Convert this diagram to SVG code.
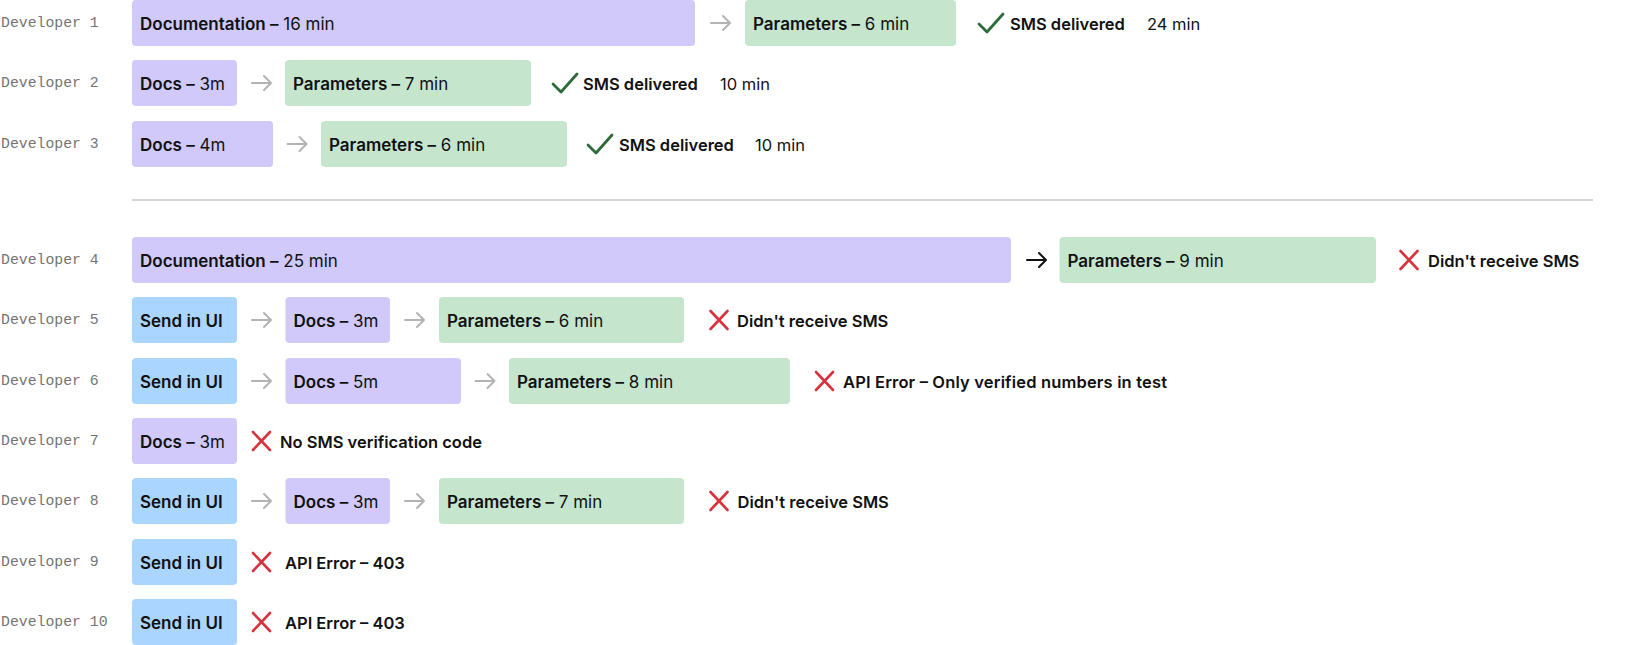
<svg xmlns="http://www.w3.org/2000/svg" xmlns:xlink="http://www.w3.org/1999/xlink" width="1632" height="645" viewBox="0 0 1632 645">
<style>
.bg{fill:#ffffff}
.lbl{font-family:"Liberation Mono","DejaVu Sans Mono",monospace;font-size:14.8px;fill:#747474}
.t{font-family:Inter,"Noto Sans","Liberation Sans",sans-serif;font-size:16.5px;fill:#111111}
.bx{font-size:17px}
.b{font-weight:600}
.r{font-weight:400}
.doc{fill:#D0C9FA}
.par{fill:#C5E5CD}
.ui{fill:#A9D5FF}
.arrow{fill:none;stroke:#B3B3B3;stroke-width:2;stroke-linecap:round;stroke-linejoin:round}
.arrowk{fill:none;stroke:#111111;stroke-width:2;stroke-linecap:round;stroke-linejoin:round}
.ok{fill:none;stroke:#2E6B3A;stroke-width:2.8;stroke-linecap:round;stroke-linejoin:round}
.no{fill:none;stroke:#D8333C;stroke-width:2.6;stroke-linecap:round}
.sep{stroke:#C8C8C8;stroke-width:1.5}
</style>
<defs>
<path id="arr" d="M0,0 H19 M12,-7 L19,0 L12,7"/>
<path id="chk" d="M0,1 L8,9 L24,-9"/>
<path id="xm" d="M-8.5,-9 L8.5,9 M8.5,-9 L-8.5,9"/>
</defs>
<rect class="bg" x="0" y="0" width="1632" height="645"/>

<g id="labels">
<text class="lbl" x="1" y="26.5">Developer 1</text>
<text class="lbl" x="1" y="86.5">Developer 2</text>
<text class="lbl" x="1" y="147.5">Developer 3</text>
<text class="lbl" x="1" y="263.5">Developer 4</text>
<text class="lbl" x="1" y="323.5">Developer 5</text>
<text class="lbl" x="1" y="384.5">Developer 6</text>
<text class="lbl" x="1" y="444.5">Developer 7</text>
<text class="lbl" x="1" y="504.5">Developer 8</text>
<text class="lbl" x="1" y="565.5">Developer 9</text>
<text class="lbl" x="1" y="625.5">Developer 10</text>
</g>

<line id="separator" class="sep" x1="132" y1="200" x2="1593" y2="200"/>

<!-- Row 1 -->
<g id="r1-doc"><rect class="doc" x="132" y="0" width="563" height="46" rx="4"/><text class="t bx" x="140" y="29.5"><tspan class="b">Documentation –</tspan><tspan class="r"> 16 min</tspan></text></g>
<g id="r1-par"><rect class="par" x="745" y="0" width="211" height="46" rx="4"/><text class="t bx" x="753" y="29.5"><tspan class="b">Parameters –</tspan><tspan class="r"> 6 min</tspan></text></g>
<g id="r1-res"><use href="#chk" class="ok" x="979" y="23"/><text class="t" x="1010" y="29.5"><tspan class="b">SMS delivered</tspan></text><text class="t r" x="1147" y="29.5">24 min</text></g>

<!-- Row 2 -->
<g id="r2-doc"><rect class="doc" x="132" y="60" width="105" height="46" rx="4"/><text class="t bx" x="140" y="89.5"><tspan class="b">Docs –</tspan><tspan class="r"> 3m</tspan></text></g>
<g id="r2-par"><rect class="par" x="285" y="60" width="246" height="46" rx="4"/><text class="t bx" x="293" y="89.5"><tspan class="b">Parameters –</tspan><tspan class="r"> 7 min</tspan></text></g>
<g id="r2-res"><use href="#chk" class="ok" x="553" y="83"/><text class="t" x="583" y="89.5"><tspan class="b">SMS delivered</tspan></text><text class="t r" x="720" y="89.5">10 min</text></g>

<!-- Row 3 -->
<g id="r3-doc"><rect class="doc" x="132" y="121" width="141" height="46" rx="4"/><text class="t bx" x="140" y="150.5"><tspan class="b">Docs –</tspan><tspan class="r"> 4m</tspan></text></g>
<g id="r3-par"><rect class="par" x="321" y="121" width="246" height="46" rx="4"/><text class="t bx" x="329" y="150.5"><tspan class="b">Parameters –</tspan><tspan class="r"> 6 min</tspan></text></g>
<g id="r3-res"><use href="#chk" class="ok" x="588" y="144"/><text class="t" x="619" y="150.5"><tspan class="b">SMS delivered</tspan></text><text class="t r" x="755" y="150.5">10 min</text></g>

<!-- Row 4 -->
<g id="r4-doc"><rect class="doc" x="132" y="237" width="879" height="46" rx="4"/><text class="t bx" x="140" y="266.5"><tspan class="b">Documentation –</tspan><tspan class="r"> 25 min</tspan></text></g>
<g id="r4-par"><rect class="par" x="1059.5" y="237" width="316.5" height="46" rx="4"/><text class="t bx" x="1067.5" y="266.5"><tspan class="b">Parameters –</tspan><tspan class="r"> 9 min</tspan></text></g>
<g id="r4-res"><use href="#xm" class="no" x="1409" y="260"/><text class="t b" x="1428" y="266.5">Didn't receive SMS</text></g>

<!-- Row 5 -->
<g id="r5-ui"><rect class="ui" x="132" y="297" width="105" height="46" rx="4"/><text class="t bx b" x="140" y="326.5">Send in UI</text></g>
<g id="r5-doc"><rect class="doc" x="285.5" y="297" width="104.5" height="46" rx="4"/><text class="t bx" x="293.5" y="326.5"><tspan class="b">Docs –</tspan><tspan class="r"> 3m</tspan></text></g>
<g id="r5-par"><rect class="par" x="439" y="297" width="245" height="46" rx="4"/><text class="t bx" x="447" y="326.5"><tspan class="b">Parameters –</tspan><tspan class="r"> 6 min</tspan></text></g>
<g id="r5-res"><use href="#xm" class="no" x="719" y="320"/><text class="t b" x="737" y="326.5">Didn't receive SMS</text></g>

<!-- Row 6 -->
<g id="r6-ui"><rect class="ui" x="132" y="358" width="105" height="46" rx="4"/><text class="t bx b" x="140" y="387.5">Send in UI</text></g>
<g id="r6-doc"><rect class="doc" x="285.5" y="358" width="175.5" height="46" rx="4"/><text class="t bx" x="293.5" y="387.5"><tspan class="b">Docs –</tspan><tspan class="r"> 5m</tspan></text></g>
<g id="r6-par"><rect class="par" x="509" y="358" width="281" height="46" rx="4"/><text class="t bx" x="517" y="387.5"><tspan class="b">Parameters –</tspan><tspan class="r"> 8 min</tspan></text></g>
<g id="r6-res"><use href="#xm" class="no" x="824.5" y="381"/><text class="t b" x="843" y="387.5" textLength="324" lengthAdjust="spacing">API Error – Only verified numbers in test</text></g>

<!-- Row 7 -->
<g id="r7-doc"><rect class="doc" x="132" y="418" width="105" height="46" rx="4"/><text class="t bx" x="140" y="447.5"><tspan class="b">Docs –</tspan><tspan class="r"> 3m</tspan></text></g>
<g id="r7-res"><use href="#xm" class="no" x="261.5" y="441"/><text class="t b" x="280" y="447.5">No SMS verification code</text></g>

<!-- Row 8 -->
<g id="r8-ui"><rect class="ui" x="132" y="478" width="105" height="46" rx="4"/><text class="t bx b" x="140" y="507.5">Send in UI</text></g>
<g id="r8-doc"><rect class="doc" x="285.5" y="478" width="104.5" height="46" rx="4"/><text class="t bx" x="293.5" y="507.5"><tspan class="b">Docs –</tspan><tspan class="r"> 3m</tspan></text></g>
<g id="r8-par"><rect class="par" x="439" y="478" width="245" height="46" rx="4"/><text class="t bx" x="447" y="507.5"><tspan class="b">Parameters –</tspan><tspan class="r"> 7 min</tspan></text></g>
<g id="r8-res"><use href="#xm" class="no" x="719" y="501"/><text class="t b" x="737.5" y="507.5">Didn't receive SMS</text></g>

<!-- Row 9 -->
<g id="r9-ui"><rect class="ui" x="132" y="539" width="105" height="46" rx="4"/><text class="t bx b" x="140" y="568.5">Send in UI</text></g>
<g id="r9-res"><use href="#xm" class="no" x="261.5" y="562"/><text class="t b" x="285" y="568.5">API Error – 403</text></g>

<!-- Row 10 -->
<g id="r10-ui"><rect class="ui" x="132" y="599" width="105" height="46" rx="4"/><text class="t bx b" x="140" y="628.5">Send in UI</text></g>
<g id="r10-res"><use href="#xm" class="no" x="261.5" y="622"/><text class="t b" x="285" y="628.5">API Error – 403</text></g>

<g id="connectors">
<use href="#arr" class="arrow" x="711" y="23"/>
<use href="#arr" class="arrow" x="252" y="83"/>
<use href="#arr" class="arrow" x="287.5" y="144"/>
<use href="#arr" class="arrowk" x="1027" y="260"/>
<use href="#arr" class="arrow" x="252" y="320"/>
<use href="#arr" class="arrow" x="405" y="320"/>
<use href="#arr" class="arrow" x="252" y="381"/>
<use href="#arr" class="arrow" x="475.5" y="381"/>
<use href="#arr" class="arrow" x="252" y="501"/>
<use href="#arr" class="arrow" x="405" y="501"/>
</g>
</svg>
